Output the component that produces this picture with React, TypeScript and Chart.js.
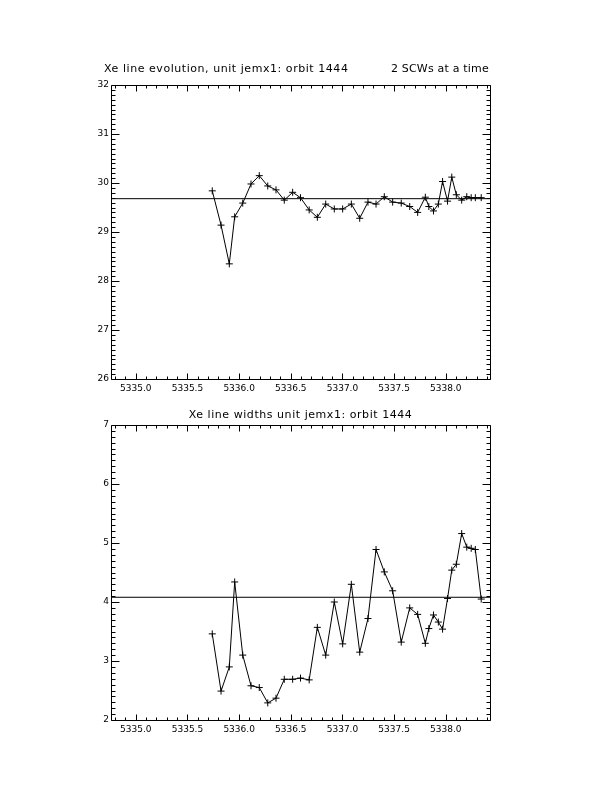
import React, { useEffect, useRef } from "react";
import { Chart, registerables } from "chart.js";

Chart.register(...registerables);

// ---- data ----
const mjd: number[] = [
  5335.740, 5335.825, 5335.905, 5335.957, 5336.035, 5336.115, 5336.195, 5336.277,
  5336.357, 5336.437, 5336.518, 5336.594, 5336.678, 5336.757, 5336.838, 5336.921,
  5337.002, 5337.086, 5337.167, 5337.247, 5337.325, 5337.405, 5337.486, 5337.569,
  5337.651, 5337.728, 5337.802, 5337.836, 5337.881, 5337.928, 5337.969, 5338.017,
  5338.058, 5338.102, 5338.154, 5338.203, 5338.246, 5338.286, 5338.343,
];
const linePosition: number[] = [
  29.84, 29.14, 28.35, 29.31, 29.59, 29.98, 30.15, 29.94,
  29.86, 29.65, 29.81, 29.70, 29.45, 29.30, 29.57, 29.47,
  29.47, 29.57, 29.28, 29.61, 29.57, 29.72, 29.61, 29.59,
  29.52, 29.40, 29.71, 29.52, 29.43, 29.57, 30.03, 29.63,
  30.12, 29.76, 29.65, 29.72, 29.70, 29.70, 29.70,
];
const lineWidthValues: number[] = [
  3.46, 2.49, 2.90, 4.34, 3.10, 2.58, 2.55, 2.29,
  2.37, 2.69, 2.69, 2.71, 2.68, 3.57, 3.10, 4.00,
  3.29, 4.30, 3.15, 3.72, 4.89, 4.51, 4.19, 3.32,
  3.90, 3.79, 3.30, 3.55, 3.78, 3.66, 3.54, 4.06,
  4.54, 4.64, 5.16, 4.93, 4.91, 4.89, 4.05,
];
const meanPosition = 29.68;
const meanWidth = 4.08;

const xRange: [number, number] = [5334.76, 5338.428];
const xTickValues: number[] = [5335.0, 5335.5, 5336.0, 5336.5, 5337.0, 5337.5, 5338.0];
const xTickLabels: string[] = ["5335.0", "5335.5", "5336.0", "5336.5", "5337.0", "5337.5", "5338.0"];
const yTopTicks: number[] = [26, 27, 28, 29, 30, 31, 32];
const yBottomTicks: number[] = [2, 3, 4, 5, 6, 7];

const titleTopLeft = "Xe line evolution, unit jemx1: orbit 1444";
const titleTopRight = "2 SCWs at a time";
const titleBottom = "Xe line widths unit jemx1: orbit 1444";

const FONT_FAMILY = '"DejaVu Sans"';

// ---- plugin: IDL-style frame, inward ticks, titles ----
const idlPlugin = {
  id: "idlAxes",
  afterDatasetsDraw(chart: any, _args: any, opts: any) {
    const { ctx, chartArea: a, scales } = chart;
    const xs = scales.x;
    const ys = scales.y;
    const L = Math.round(a.left) + 0.5;
    const R = Math.round(a.right) + 0.5;
    const T = Math.round(a.top) + 0.5;
    const B = Math.round(a.bottom) + 0.5;
    ctx.save();
    ctx.strokeStyle = "#000";
    ctx.lineWidth = 1;
    ctx.beginPath();
    ctx.moveTo(L, T);
    ctx.lineTo(R, T);
    ctx.lineTo(R, B);
    ctx.lineTo(L, B);
    ctx.closePath();
    // x ticks every 0.1, major every 0.5
    const kx0 = Math.ceil(xs.min * 10 - 1e-6);
    const kx1 = Math.floor(xs.max * 10 + 1e-6);
    for (let k = kx0; k <= kx1; k++) {
      const px = Math.round(xs.getPixelForValue(k / 10)) + 0.5;
      const len = k % 5 === 0 ? 6 : 3;
      ctx.moveTo(px, B);
      ctx.lineTo(px, B - len);
      ctx.moveTo(px, T);
      ctx.lineTo(px, T + len);
    }
    const ky0 = Math.ceil(ys.min * 10 - 1e-6);
    const ky1 = Math.floor(ys.max * 10 + 1e-6);
    for (let k = ky0; k <= ky1; k++) {
      const py = Math.round(ys.getPixelForValue(k / 10)) + 0.5;
      const len = k % 10 === 0 ? 8 : 4;
      ctx.moveTo(L, py);
      ctx.lineTo(L + len, py);
      ctx.moveTo(R, py);
      ctx.lineTo(R - len, py);
    }
    ctx.stroke();

    ctx.fillStyle = "#000";
    ctx.font = `11px ${FONT_FAMILY}`;
    ctx.textBaseline = "alphabetic";
    for (const t of opts.titles || []) {
      ctx.textAlign = t.align;
      (ctx as any).letterSpacing = t.spacing || "0px";
      ctx.fillText(t.text, t.x, t.y);
    }
    (ctx as any).letterSpacing = "0px";
    ctx.restore();
  },
};

function makeConfig(
  yVals: number[],
  mean: number,
  yTicks: number[],
  padTop: number,
  xAxisHeight: number,
  titles: any[]
): any {
  return {
    type: "line",
    data: {
      datasets: [
        {
          data: [
            { x: xRange[0], y: mean },
            { x: xRange[1], y: mean },
          ],
          borderColor: "#000",
          borderWidth: 1,
          pointRadius: 0,
          fill: false,
        },
        {
          data: mjd.map((x, i) => ({ x, y: yVals[i] })),
          borderColor: "#000",
          borderWidth: 1,
          pointStyle: "cross",
          pointRadius: 3.5,
          pointBorderWidth: 1,
          pointBorderColor: "#000",
          pointBackgroundColor: "#000",
          fill: false,
          tension: 0,
        },
      ],
    },
    options: {
      responsive: false,
      animation: false,
      devicePixelRatio: 1,
      layout: { padding: { top: padTop, right: 122, left: 0, bottom: 0 } },
      plugins: {
        legend: { display: false },
        tooltip: { enabled: false },
        title: { display: false },
        idlAxes: { titles },
      },
      scales: {
        x: {
          type: "linear",
          min: xRange[0],
          max: xRange[1],
          grid: { display: false, drawTicks: false },
          border: { display: false },
          afterBuildTicks: (s: any) => {
            s.ticks = xTickValues.map((v) => ({ value: v }));
          },
          afterFit: (s: any) => {
            s.height = xAxisHeight;
          },
          ticks: {
            color: "#000",
            padding: 4,
            maxRotation: 0,
            autoSkip: false,
            font: { family: FONT_FAMILY, size: 9 },
            callback: (v: number) => {
              const i = xTickValues.findIndex((t) => Math.abs(t - v) < 1e-6);
              return i >= 0 ? xTickLabels[i] : "";
            },
          },
        },
        y: {
          type: "linear",
          min: yTicks[0],
          max: yTicks[yTicks.length - 1],
          grid: { display: false, drawTicks: false },
          border: { display: false },
          afterBuildTicks: (s: any) => {
            s.ticks = yTicks.map((v) => ({ value: v }));
          },
          afterFit: (s: any) => {
            s.width = 111;
          },
          ticks: {
            color: "#000",
            padding: 2,
            autoSkip: false,
            font: { family: FONT_FAMILY, size: 9 },
            callback: (v: number) => String(v),
          },
        },
      },
    },
    plugins: [idlPlugin],
  };
}

export default function App() {
  const topRef = useRef<HTMLCanvasElement>(null);
  const botRef = useRef<HTMLCanvasElement>(null);

  useEffect(() => {
    const c1 = new Chart(
      topRef.current as HTMLCanvasElement,
      makeConfig(linePosition, meanPosition, yTopTicks, 85, 21, [
        { text: titleTopLeft, x: 104, y: 72, align: "left", spacing: "0.55px" },
        { text: titleTopRight, x: 489, y: 72, align: "right", spacing: "0.2px" },
      ])
    );
    const c2 = new Chart(
      botRef.current as HTMLCanvasElement,
      makeConfig(lineWidthValues, meanWidth, yBottomTicks, 25, 72, [
        { text: titleBottom, x: 300.5, y: 18, align: "center", spacing: "0.55px" },
      ])
    );
    return () => {
      c1.destroy();
      c2.destroy();
    };
  }, []);

  return (
    <div
      style={{
        position: "absolute",
        left: 0,
        top: 0,
        width: 612,
        height: 792,
        background: "#fff",
      }}
    >
      <canvas
        ref={topRef}
        width={612}
        height={400}
        style={{ position: "absolute", left: 0, top: 0, width: 612, height: 400 }}
      />
      <canvas
        ref={botRef}
        width={612}
        height={392}
        style={{ position: "absolute", left: 0, top: 400, width: 612, height: 392 }}
      />
    </div>
  );
}
